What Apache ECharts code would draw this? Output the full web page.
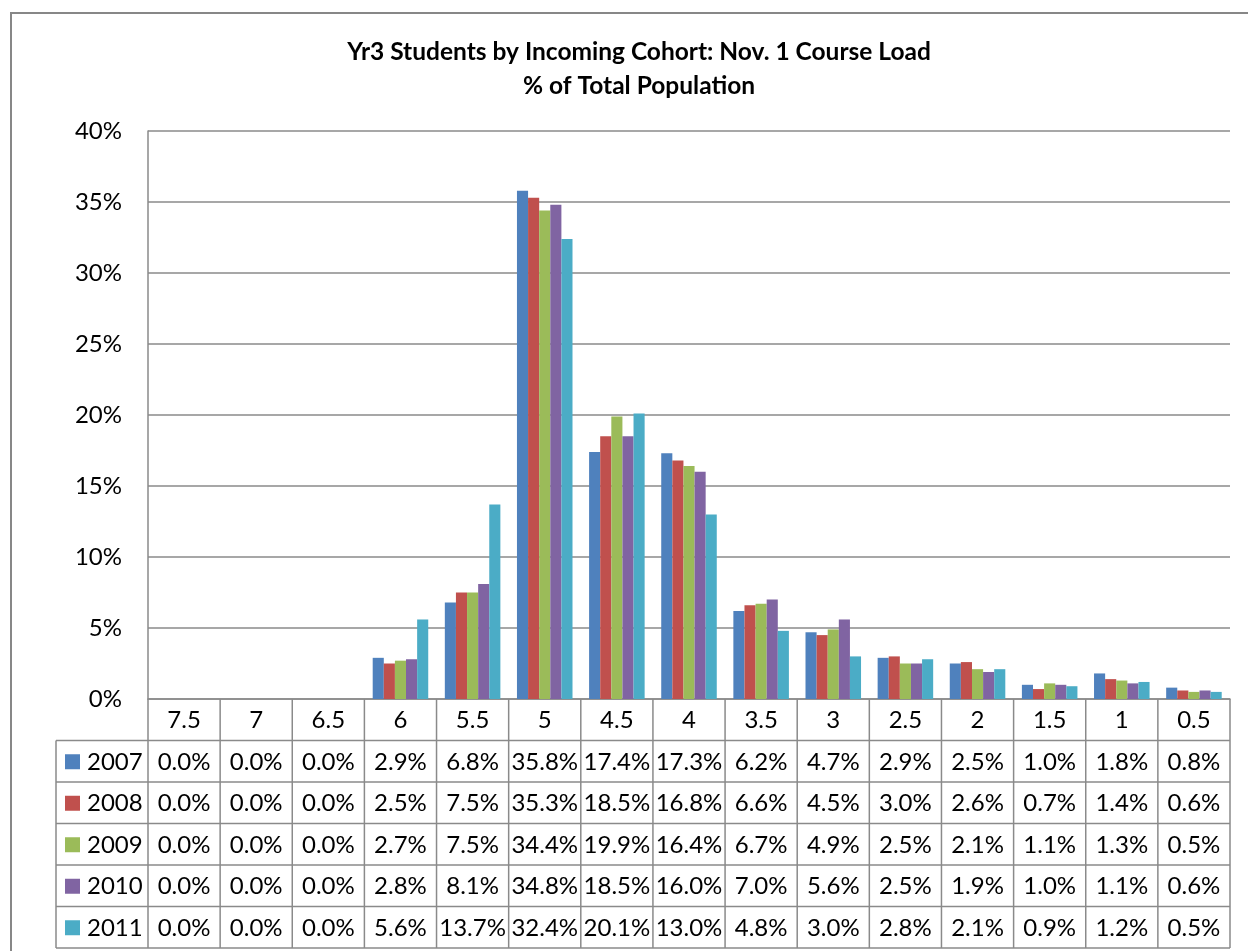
<!DOCTYPE html>
<html>
<head>
<meta charset="utf-8">
<script src="https://cdn.jsdelivr.net/npm/echarts@6/dist/echarts.min.js"></script>
<style>
  html, body { margin: 0; padding: 0; background: #fff; }
  #chart { width: 1248px; height: 951px; }
</style>
</head>
<body>
<div id="chart"></div>
<script>
// Course load categories (number of courses on Nov. 1)
const categories = ['7.5', '7', '6.5', '6', '5.5', '5', '4.5', '4', '3.5', '3', '2.5', '2', '1.5', '1', '0.5'];
const cohorts = ['2007', '2008', '2009', '2010', '2011'];

// Share of total population, in percent
const s2007 = [0.0, 0.0, 0.0, 2.9, 6.8, 35.8, 17.4, 17.3, 6.2, 4.7, 2.9, 2.5, 1.0, 1.8, 0.8];
const s2008 = [0.0, 0.0, 0.0, 2.5, 7.5, 35.3, 18.5, 16.8, 6.6, 4.5, 3.0, 2.6, 0.7, 1.4, 0.6];
const s2009 = [0.0, 0.0, 0.0, 2.7, 7.5, 34.4, 19.9, 16.4, 6.7, 4.9, 2.5, 2.1, 1.1, 1.3, 0.5];
const s2010 = [0.0, 0.0, 0.0, 2.8, 8.1, 34.8, 18.5, 16.0, 7.0, 5.6, 2.5, 1.9, 1.0, 1.1, 0.6];
const s2011 = [0.0, 0.0, 0.0, 5.6, 13.7, 32.4, 20.1, 13.0, 4.8, 3.0, 2.8, 2.1, 0.9, 1.2, 0.5];

const seriesValues = [s2007, s2008, s2009, s2010, s2011];
const colors = ['#4F81BD', '#C0504D', '#9BBB59', '#8064A2', '#4BACC6'];

const FONT = 'Lato, "Open Sans", sans-serif';
const LINE = '#8a8a8a';

const GRID = { left: 148, top: 131, right: 18, bottom: 252 };

const chart = echarts.init(document.getElementById('chart'), null, { renderer: 'canvas' });

chart.setOption({
  backgroundColor: '#fff',
  animation: false,
  textStyle: { fontFamily: FONT },
  title: {
    text: 'Yr3 Students by Incoming Cohort: Nov. 1 Course Load\n% of Total Population',
    left: 634,
    textAlign: 'center',
    top: 30,
    textStyle: { fontFamily: FONT, fontSize: 24.5, fontWeight: 'bold', color: '#000', lineHeight: 34 }
  },
  grid: GRID,
  xAxis: {
    type: 'category',
    data: categories,
    axisLine: { show: true, lineStyle: { color: LINE, width: 1.5 } },
    axisTick: { show: false },
    axisLabel: { show: false },
    splitLine: { show: false }
  },
  yAxis: {
    type: 'value',
    min: 0,
    max: 40,
    interval: 5,
    axisLine: { show: true, lineStyle: { color: LINE, width: 1.5 } },
    axisTick: { show: false },
    axisLabel: {
      formatter: '{value}%',
      margin: 26,
      color: '#000',
      fontFamily: FONT,
      fontSize: 24
    },
    splitLine: { show: true, lineStyle: { color: LINE, width: 1.5 } }
  },
  series: cohorts.map((name, i) => ({
    name: name,
    type: 'bar',
    data: seriesValues[i],
    barGap: '0%',
    barCategoryGap: '23%',
    itemStyle: { color: colors[i] }
  }))
});

// Data table under the plot: column geometry taken from the category axis
function buildTable() {
  const x0 = chart.convertToPixel({ xAxisIndex: 0 }, 0);
  const x1 = chart.convertToPixel({ xAxisIndex: 0 }, 1);
  const colW = x1 - x0;
  const left = x0 - colW / 2;
  const right = left + colW * categories.length;
  const top = chart.convertToPixel({ yAxisIndex: 0 }, 0);
  const rowH = 41.5;
  const legendLeft = 56;
  const nRows = cohorts.length + 1;
  const bottom = top + rowH * nRows;
  const els = [];

  // outer chart frame
  els.push({
    type: 'rect', silent: true,
    shape: { x: 11, y: 13, width: 1300, height: 1000 },
    style: { fill: null, stroke: '#878787', lineWidth: 2 }
  });

  // horizontal lines between rows
  for (let r = 1; r <= nRows; r++) {
    const y = top + rowH * r;
    els.push({
      type: 'line', silent: true,
      shape: { x1: legendLeft, y1: y, x2: right, y2: y },
      style: { stroke: LINE, lineWidth: 1.5 }
    });
  }
  // vertical lines at column boundaries
  for (let c = 0; c <= categories.length; c++) {
    const x = left + colW * c;
    els.push({
      type: 'line', silent: true,
      shape: { x1: x, y1: top, x2: x, y2: bottom },
      style: { stroke: LINE, lineWidth: 1.5 }
    });
  }
  // legend column left edge
  els.push({
    type: 'line', silent: true,
    shape: { x1: legendLeft, y1: top + rowH, x2: legendLeft, y2: bottom },
    style: { stroke: LINE, lineWidth: 1.5 }
  });

  // category header row
  categories.forEach((cat, c) => {
    els.push({
      type: 'text', silent: true,
      x: chart.convertToPixel({ xAxisIndex: 0 }, c),
      y: top + rowH / 2 + 1,
      style: { text: cat, fill: '#000', font: '24px ' + FONT, align: 'center', verticalAlign: 'middle' }
    });
  });

  // one row per cohort: legend key, name, values
  cohorts.forEach((name, i) => {
    const cy = top + rowH * (i + 1) + rowH / 2 + 1;
    els.push({
      type: 'rect', silent: true,
      shape: { x: 65, y: cy - 8, width: 15, height: 15 },
      style: { fill: colors[i] }
    });
    els.push({
      type: 'text', silent: true,
      x: 87, y: cy,
      style: { text: name, fill: '#000', font: '24px ' + FONT, align: 'left', verticalAlign: 'middle' }
    });
    seriesValues[i].forEach((v, c) => {
      els.push({
        type: 'text', silent: true,
        x: chart.convertToPixel({ xAxisIndex: 0 }, c),
        y: cy,
        style: { text: v.toFixed(1) + '%', fill: '#000', font: '24px ' + FONT, align: 'center', verticalAlign: 'middle' }
      });
    });
  });

  chart.setOption({ graphic: { elements: els } });
}

buildTable();
</script>
</body>
</html>
